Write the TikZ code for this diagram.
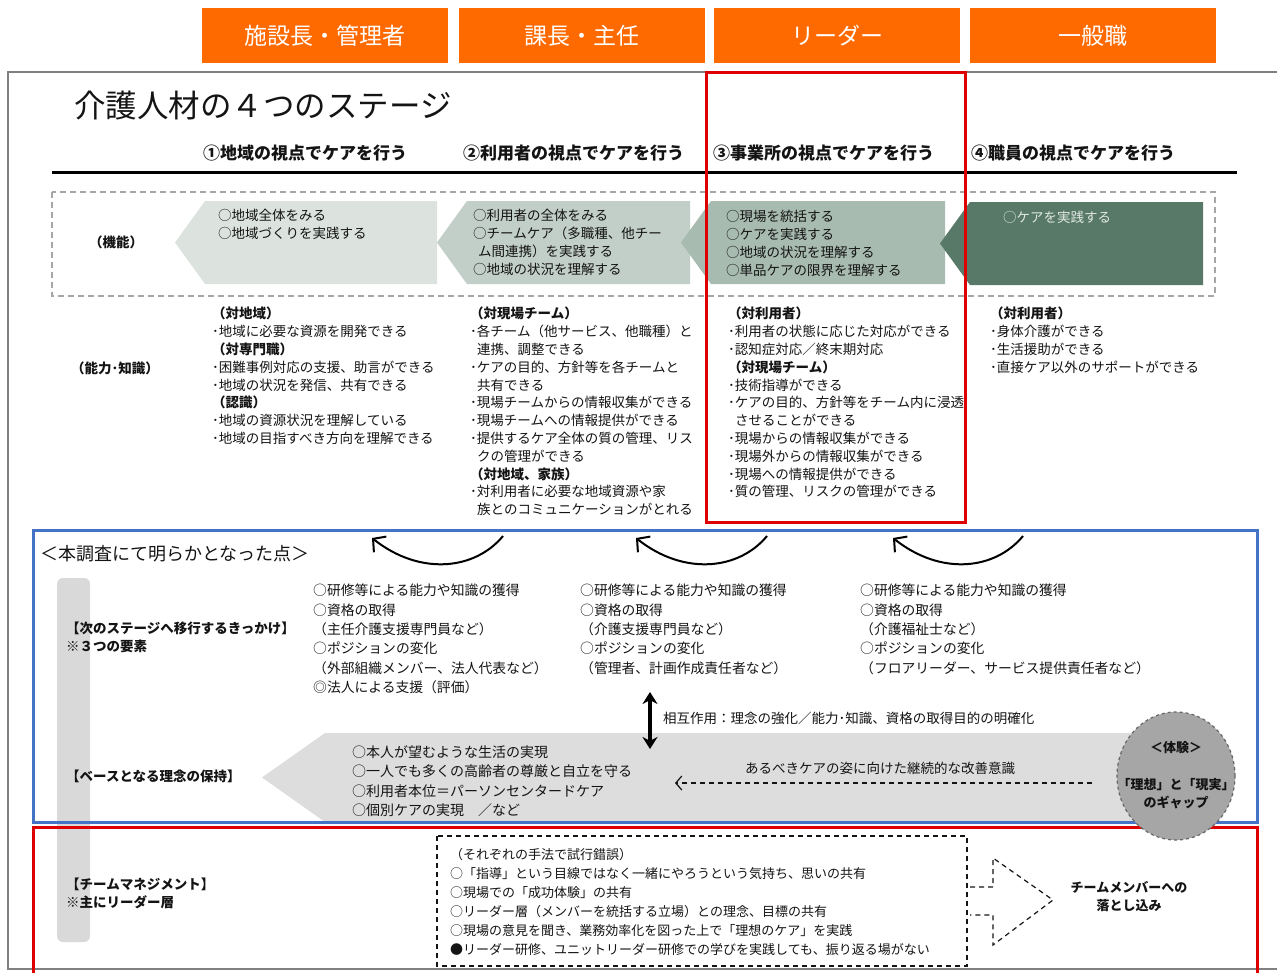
\documentclass[tikz,border=0pt]{standalone}
\usepackage{fontspec}
\setmainfont{Noto Sans CJK JP}
\usetikzlibrary{arrows.meta,shapes.geometric}
\definecolor{orng}{RGB}{255,106,0}
\definecolor{cA}{RGB}{220,227,223}
\definecolor{cB}{RGB}{194,207,200}
\definecolor{cC}{RGB}{168,187,177}
\definecolor{cD}{RGB}{88,121,104}
\definecolor{txw}{RGB}{225,232,228}
\definecolor{lgray}{RGB}{217,217,217}
\definecolor{mgray}{RGB}{166,166,166}
\definecolor{redf}{RGB}{222,0,0}
\definecolor{bluef}{RGB}{68,114,196}
\definecolor{txk}{RGB}{20,20,20}
\newcommand\fsz[2]{\fontsize{#1}{#2}\selectfont}
\begin{document}
\begin{tikzpicture}[x=1pt,y=-1pt,
  hdr/.style={fill=orng, text=white, minimum width=246pt, minimum height=55pt, inner sep=0pt, font=\fsz{23}{26}},
  txt/.style={anchor=north west, inner sep=0pt, align=left, text=txk, font=\fsz{13.5}{17.8}},
  ftxt/.style={txt, font=\fsz{13.5}{18}},
  ttxt/.style={txt, font=\fsz{13.8}{19.3}},
  mtxt/.style={txt, font=\fsz{13}{19}},
  lbl/.style={anchor=north west, inner sep=0pt, align=left, text=txk, font=\bfseries\fsz{13.5}{18}},
  colh/.style={anchor=west, inner sep=0pt, text=txk, font=\bfseries\fsz{17}{20}},
  curv/.style={line width=2pt, -{Straight Barb[length=9pt,width=20pt,line width=2pt]}},
]
\useasboundingbox (0,0) rectangle (1277,972);
\fill[white] (0,0) rectangle (1277,972);

% orange headers
\node[hdr] (h1) at (325,35.5) {施設長・管理者};
\node[hdr] (h2) at (581.5,35.5) {課長・主任};
\node[hdr] (h3) at (837,35.5) {リーダー};
\node[hdr] (h4) at (1093,35.5) {一般職};

% outer frame
\draw[gray, line width=1.5pt] (8,72) rectangle (1290,969);

% title
\node[anchor=west, inner sep=0pt, text=txk, font=\fsz{31.5}{34}] (title) at (74,106) {介護人材の４つのステージ};

% column titles
\node[colh] (c1) at (203,153) {①地域の視点でケアを行う};
\node[colh] (c2) at (463,153) {②利用者の視点でケアを行う};
\node[colh] (c3) at (713,153) {③事業所の視点でケアを行う};
\node[colh] (c4) at (971,153) {④職員の視点でケアを行う};
\draw[line width=3pt] (52,172) -- (1237,172);

% function band
\draw[gray!70, dashed, line width=1.2pt, dash pattern=on 6pt off 4pt] (52,192) rectangle (1215,296);
\fill[cA] (205,201) -- (437,201) -- (437,284) -- (205,284) -- (175,242.5) -- cycle;
\fill[cB] (467,201) -- (690,201) -- (690,284) -- (467,284) -- (437,242.5) -- cycle;
\fill[cC] (711,201) -- (945,201) -- (945,284) -- (711,284) -- (681,242.5) -- cycle;
\fill[cD] (970,202) -- (1203,202) -- (1203,285) -- (970,285) -- (940,243.5) -- cycle;

\node[lbl, anchor=center] (kino) at (116,242) {（機能）};
\node[ftxt] (f1) at (218,209) {○地域全体をみる\\○地域づくりを実践する};
\node[ftxt] (f2) at (473,209) {○利用者の全体をみる\\○チームケア（多職種、他チー\\\hspace{5pt}ム間連携）を実践する\\○地域の状況を理解する};
\node[ftxt] (f3) at (726,210) {○現場を統括する\\○ケアを実践する\\○地域の状況を理解する\\○単品ケアの限界を理解する};
\node[ftxt, text=txw] (f4) at (1003,211) {○ケアを実践する};

% abilities
\node[lbl, anchor=center] (nory) at (115,368) {（能力･知識）};
\node[txt] (a1) at (212,307) {\textbf{（対地域）}\\･地域に必要な資源を開発できる\\\textbf{（対専門職）}\\･困難事例対応の支援、助言ができる\\･地域の状況を発信、共有できる\\\textbf{（認識）}\\･地域の資源状況を理解している\\･地域の目指すべき方向を理解できる};
\node[txt] (a2) at (470,307) {\textbf{（対現場チーム）}\\･各チーム（他サービス、他職種）と\\\hspace{7pt}連携、調整できる\\･ケアの目的、方針等を各チームと\\\hspace{7pt}共有できる\\･現場チームからの情報収集ができる\\･現場チームへの情報提供ができる\\･提供するケア全体の質の管理、リス\\\hspace{7pt}クの管理ができる\\\textbf{（対地域、家族）}\\･対利用者に必要な地域資源や家\\\hspace{7pt}族とのコミュニケーションがとれる};
\node[txt] (a3) at (728,307) {\textbf{（対利用者）}\\･利用者の状態に応じた対応ができる\\･認知症対応／終末期対応\\\textbf{（対現場チーム）}\\･技術指導ができる\\･ケアの目的、方針等をチーム内に浸透\\\hspace{7pt}させることができる\\･現場からの情報収集ができる\\･現場外からの情報収集ができる\\･現場への情報提供ができる\\･質の管理、リスクの管理ができる};
\node[txt] (a4) at (990,307) {\textbf{（対利用者）}\\･身体介護ができる\\･生活援助ができる\\･直接ケア以外のサポートができる};

% red leader frame
\draw[redf, line width=3pt] (706,72) rectangle (965,522);

% gray vertical bar
\fill[lgray, rounded corners=6pt] (57,578) rectangle (90,942);

% big gray arrow (base philosophy)
\fill[lgray!90!white] (325,733) -- (1180,733) -- (1180,822) -- (325,822) -- (262,777.5) -- cycle;

% blue frame
\draw[bluef, line width=3pt] (33,530) rectangle (1257,822);
% red bottom frame
\draw[redf, line width=3pt] (33,827) rectangle (1257,975);

\node[anchor=west, inner sep=0pt, text=txk, font=\fsz{18}{20}] (find) at (40,554) {＜本調査にて明らかとなった点＞};

% curved arrows
\coordinate (r1) at (503,536); \coordinate (l1) at (372,538);
\coordinate (r2) at (767,536); \coordinate (l2) at (636,538);
\coordinate (r3) at (1023,536); \coordinate (l3) at (893,538);
\draw[curv] (r1) .. controls (475,570) and (420,576) .. (l1);
\draw[curv] (r2) .. controls (739,570) and (684,576) .. (l2);
\draw[curv] (r3) .. controls (995,570) and (941,576) .. (l3);

% triggers
\node[lbl] (trg) at (66,622) {【次のステージへ移行するきっかけ】\\※３つの要素};
\node[ttxt] (t1) at (313,584) {○研修等による能力や知識の獲得\\○資格の取得\\（主任介護支援専門員など）\\○ポジションの変化\\（外部組織メンバー、法人代表など）\\◎法人による支援（評価）};
\node[ttxt] (t2) at (580,584) {○研修等による能力や知識の獲得\\○資格の取得\\（介護支援専門員など）\\○ポジションの変化\\（管理者、計画作成責任者など）};
\node[ttxt] (t3) at (860,584) {○研修等による能力や知識の獲得\\○資格の取得\\（介護福祉士など）\\○ポジションの変化\\（フロアリーダー、サービス提供責任者など）};

% interaction arrow
\coordinate (ia) at (650,692); \coordinate (ib) at (650,749);
\draw[line width=3.5pt, {Stealth[length=12pt,width=15pt]}-{Stealth[length=12pt,width=15pt]}] (ia) -- (ib);
\node[anchor=west, inner sep=0pt, text=txk, font=\fsz{13.5}{16}] (inter) at (663,718) {相互作用：理念の強化／能力･知識、資格の取得目的の明確化};

% base philosophy
\node[lbl] (base) at (66,770) {【ベースとなる理念の保持】};
\node[txt, font=\fsz{14}{19.5}] (b1) at (352,745) {○本人が望むような生活の実現\\○一人でも多くの高齢者の尊厳と自立を守る\\○利用者本位＝パーソンセンタードケア\\○個別ケアの実現　／など};

% experience ellipse
\node[ellipse, draw=black!60, fill=mgray, dashed, line width=1.2pt, minimum width=118pt, minimum height=128pt] (exp) at (1176,776) {};
\node[anchor=center, inner sep=0pt, text=txk, font=\bfseries\fsz{13}{16}] (ex1) at (1176,748) {＜体験＞};
\node[anchor=center, inner sep=0pt, align=center, text=txk, font=\bfseries\fsz{13}{18}] (ex2) at (1176,794) {「理想」と「現実」\\のギャップ};

% dashed improvement arrow
\coordinate (da) at (1092,783); \coordinate (db) at (675,783);
\draw[txk, dashed, line width=1.2pt, dash pattern=on 5pt off 4pt, -{Straight Barb[length=6pt,width=14pt,line width=1.2pt]}] (da) -- (db);
\node[anchor=center, inner sep=0pt, text=txk, font=\fsz{13.5}{16}] (imp) at (880,768) {あるべきケアの姿に向けた継続的な改善意識};

% team management
\node[lbl] (team) at (66,878) {【チームマネジメント】\\※主にリーダー層};
\draw[txk, dashed, line width=1.2pt, dash pattern=on 5pt off 4pt] (437,836) rectangle (967,966);
\node[mtxt] (m1) at (450,848) {（それぞれの手法で試行錯誤）\\○「指導」という目線ではなく一緒にやろうという気持ち、思いの共有\\○現場での「成功体験」の共有\\○リーダー層（メンバーを統括する立場）との理念、目標の共有\\○現場の意見を聞き、業務効率化を図った上で「理想のケア」を実践\\●リーダー研修、ユニットリーダー研修での学びを実践しても、振り返る場がない};
\draw[txk, dashed, line width=1.2pt, dash pattern=on 5pt off 4pt] (970,887) -- (993,887) -- (993,858) -- (1053,900) -- (993,945) -- (993,915) -- (970,915);
\node[anchor=center, inner sep=0pt, align=center, text=txk, font=\bfseries\fsz{13}{18}] (drop) at (1129,897) {チームメンバーへの\\落とし込み};
\end{tikzpicture}
\end{document}
